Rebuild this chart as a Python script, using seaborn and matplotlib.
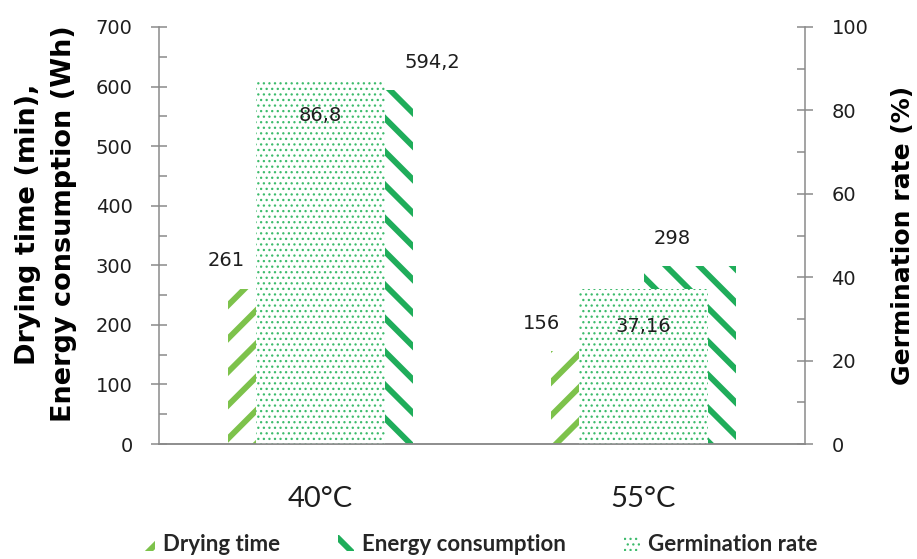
import matplotlib
matplotlib.use("Agg")
import matplotlib.pyplot as plt
import matplotlib.patches as mpatches
from matplotlib.ticker import MultipleLocator
import pandas as pd
import seaborn as sns

# Drying-trial results per air temperature
temperatures = ["40°C", "55°C"]
drying_time = [261, 156]          # min
energy_consumption = [594.2, 298]  # Wh
germination_rate = [86.8, 37.16]   # %

series_names = ["Drying time", "Energy consumption", "Germination rate"]

sns.set_theme(style="white")
plt.rcParams["font.family"] = ["DejaVu Sans"]

DRY_COLOR = "#7DC24B"
ENERGY_COLOR = "#1FAD5A"
GERM_COLOR = "#3DBB6C"
AXIS_GRAY = "#8A8A8A"
TEXT_COLOR = "#1E1E1E"

STRIPE_LW = 4.2
DOT_LW = 0.9


def fmt(v):
    return f"{v:g}".replace(".", ",")


def style_bar(patch, color, hatch, hatch_lw):
    patch.set_facecolor("white")
    patch.set_edgecolor(color)
    patch.set_linewidth(0)
    patch.set_hatch(hatch)
    if hasattr(patch, "set_hatch_linewidth"):
        patch.set_hatch_linewidth(hatch_lw)


primary = pd.DataFrame({
    "Temperature": temperatures * 2,
    "Series": [series_names[0]] * 2 + [series_names[1]] * 2,
    "Value": drying_time + energy_consumption,
})
secondary = pd.DataFrame({"Temperature": temperatures, "Value": germination_rate})

fig = plt.figure(figsize=(9.17, 5.59), dpi=100)
ax = fig.add_axes([0.1734, 0.2057, 0.7045, 0.746])

sns.barplot(data=primary, x="Temperature", y="Value", hue="Series",
            order=temperatures, hue_order=series_names[:2],
            width=0.57, gap=0, palette=[DRY_COLOR, ENERGY_COLOR],
            linewidth=0, legend=False, ax=ax)

ax2 = ax.twinx()
sns.barplot(data=secondary, x="Temperature", y="Value", order=temperatures,
            width=0.4, color="white", linewidth=0, ax=ax2)

# hatch patterns: rising stripes, falling stripes, dots
bar_styles = [(DRY_COLOR, "/", STRIPE_LW), (ENERGY_COLOR, "\\", STRIPE_LW),
              (GERM_COLOR, "...", DOT_LW)]
for patch in ax.containers[0]:
    style_bar(patch, *bar_styles[0])
for patch in ax.containers[1]:
    style_bar(patch, *bar_styles[1])
for patch in ax2.containers[0]:
    style_bar(patch, *bar_styles[2])

# value labels
dry_dx, dry_dy = [-0.293, -0.317], [20, 20]
en_dx, en_dy = [0.345, 0.088], [20, 20]
germ_dx, germ_dy = [0.0, 0.0], [-24, -27]
for i in range(len(temperatures)):
    ax.annotate(fmt(drying_time[i]), (i + dry_dx[i], drying_time[i]),
                xytext=(0, dry_dy[i]), textcoords="offset points",
                ha="center", va="center", fontsize=14, color=TEXT_COLOR)
    ax.annotate(fmt(energy_consumption[i]), (i + en_dx[i], energy_consumption[i]),
                xytext=(0, en_dy[i]), textcoords="offset points",
                ha="center", va="center", fontsize=14, color=TEXT_COLOR)
    ax2.annotate(fmt(germination_rate[i]), (i + germ_dx[i], germination_rate[i]),
                 xytext=(0, germ_dy[i]), textcoords="offset points",
                 ha="center", va="center", fontsize=14, color=TEXT_COLOR)

# axes limits and ticks
ax.set_xlim(-0.5, 1.5)
ax.set_ylim(0, 700)
ax2.set_ylim(0, 100)
ax.yaxis.set_major_locator(MultipleLocator(100))
ax.yaxis.set_minor_locator(MultipleLocator(50))
ax2.yaxis.set_major_locator(MultipleLocator(20))
ax2.yaxis.set_minor_locator(MultipleLocator(10))

ax.set_xticks(range(len(temperatures)), temperatures)
ax.set_xticks([-0.5, 0.5, 1.5], minor=True)
ax.tick_params(axis="x", which="major", length=0, pad=30, labelsize=21,
               labelcolor=TEXT_COLOR)
ax.tick_params(axis="x", which="minor", length=9.5, width=1.1,
               direction="out", color=AXIS_GRAY)
for lbl in ax.get_xticklabels():
    lbl.set_family(["Lato", "DejaVu Sans"])

ax.tick_params(axis="y", which="major", direction="inout", length=12,
               width=1.1, color=AXIS_GRAY, labelsize=14, labelcolor=TEXT_COLOR,
               pad=13, left=True)
ax.tick_params(axis="y", which="minor", direction="in", length=6,
               width=1.1, color=AXIS_GRAY, left=True)
ax2.tick_params(axis="y", which="major", direction="inout", length=12,
                width=1.1, color=AXIS_GRAY, labelsize=14, labelcolor=TEXT_COLOR,
                pad=13, right=True)
ax2.tick_params(axis="y", which="minor", direction="in", length=6,
                width=1.1, color=AXIS_GRAY, right=True)
ax2.tick_params(axis="x", which="both", length=0)

for a in (ax, ax2):
    a.set_xlabel("")
    a.set_ylabel("")
    a.spines["top"].set_visible(False)
    for side in ("left", "right", "bottom"):
        a.spines[side].set_color(AXIS_GRAY)
        a.spines[side].set_linewidth(1.1)
ax.spines["right"].set_visible(False)
ax2.spines["left"].set_visible(False)

fig.text(46 / 917, 1 - 224 / 559, "Drying time (min),\nEnergy consumption (Wh)",
         rotation=90, ha="center", va="center", multialignment="center",
         fontsize=19.5, fontweight="bold", color="black", linespacing=1.5)
fig.text(903 / 917, 1 - 235 / 559, "Germination rate (%)",
         rotation=90, ha="center", va="center",
         fontsize=18, fontweight="bold", color="black")

# legend
handles = [mpatches.Patch(facecolor="white", edgecolor=c, hatch=h, linewidth=0)
           for c, h, _ in bar_styles]
leg = fig.legend(handles, series_names, loc="center", ncol=3,
                 bbox_to_anchor=(478 / 917, 0.026), frameon=False,
                 handlelength=0.75, handleheight=0.75, handletextpad=0.35,
                 columnspacing=2.6,
                 prop={"family": ["Lato", "DejaVu Sans"], "weight": "bold", "size": 16})
for patch, (c, h, hlw) in zip(leg.get_patches(), bar_styles):
    style_bar(patch, c, h, hlw)

fig.savefig("out.png", dpi=100)
